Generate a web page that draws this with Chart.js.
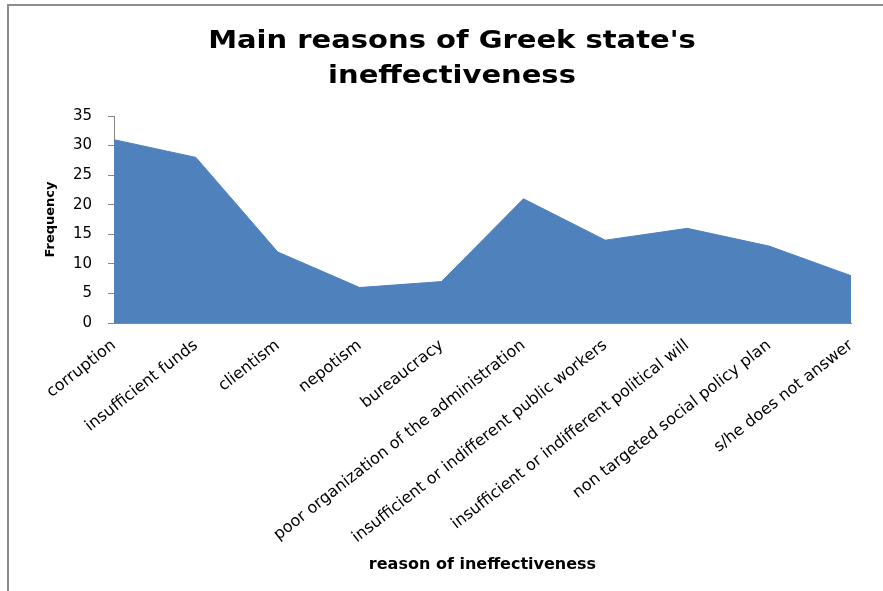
<!DOCTYPE html>
<html>
<head>
<meta charset="utf-8">
<script src="https://cdn.jsdelivr.net/npm/chart.js@4"></script>
<style>
  html, body { margin: 0; padding: 0; background: #fff; }
  #wrap { position: relative; width: 883px; height: 591px; overflow: hidden; }
  #frame { position: absolute; left: 7px; top: 4px; width: 890px; height: 600px; border: 2px solid #8c8c8c; box-sizing: border-box; }
  #title { position: absolute; left: 152px; width: 600px; top: 22px; text-align: center;
           font-family: "DejaVu Sans", sans-serif; font-weight: bold; font-size: 25px; line-height: 35px; color: #000;
           transform: scaleX(1.16); transform-origin: 300px 0; white-space: nowrap; }
  canvas { position: absolute; left: 0; top: 0; }
</style>
</head>
<body>
<div id="wrap">
  <div id="frame"></div>
  <canvas id="c" width="883" height="591"></canvas>
  <div id="title">Main reasons of Greek state's<br>ineffectiveness</div>
</div>
<script>
const categories = [
  "corruption",
  "insufficient funds",
  "clientism",
  "nepotism",
  "bureaucracy",
  "poor organization of the administration",
  "insufficient or indifferent public workers",
  "insufficient or indifferent political will",
  "non targeted social policy plan",
  "s/he does not answer"
];
const frequency = [31, 28, 12, 6, 7, 21, 14, 16, 13, 8];
const yTicks = [0, 5, 10, 15, 20, 25, 30, 35];
const yTitle = "Frequency";
const xTitle = "reason of ineffectiveness";

const axisColor = '#868686';
const fam = "'DejaVu Sans', sans-serif";

new Chart(document.getElementById('c'), {
  type: 'line',
  data: {
    labels: categories,
    datasets: [{
      label: yTitle,
      data: frequency,
      fill: 'origin',
      backgroundColor: '#4F81BD',
      borderColor: '#4F81BD',
      borderWidth: 1,
      pointRadius: 0,
      tension: 0
    }]
  },
  options: {
    responsive: false,
    animation: false,
    layout: { padding: { left: 8, right: 32, top: 116, bottom: 10 } },
    plugins: { legend: { display: false }, tooltip: { enabled: false }, title: { display: false } },
    scales: {
      x: {
        offset: false,
        grid: { display: true, drawOnChartArea: false, drawTicks: false },
        border: { display: true, color: axisColor, width: 1 },
        ticks: { autoSkip: false, minRotation: 38, maxRotation: 38, color: '#000', font: { family: fam, size: 16 }, padding: 13 },
        title: { display: true, text: xTitle, color: '#000',
                 font: { family: fam, size: 16, weight: 'bold' },
                 padding: { top: 0, bottom: 7 } },
        afterFit: (s) => { s.height = 591 - 10 - 323; }
      },
      y: {
        min: 0, max: 35,
        afterBuildTicks: (s) => { s.ticks = yTicks.map(v => ({ value: v })); },
        grid: { display: true, drawOnChartArea: false, drawTicks: true, tickLength: 6, color: axisColor },
        border: { display: true, color: axisColor, width: 1 },
        ticks: { color: '#000', font: { family: fam, size: 15 }, padding: 16 },
        title: { display: true, text: yTitle, color: '#000',
                 font: { family: fam, size: 13, weight: 'bold' },
                 padding: { top: 35, bottom: 0 } },
        afterFit: (s) => { s.width = 114 - 8; }
      }
    }
  }
});
</script>
</body>
</html>
